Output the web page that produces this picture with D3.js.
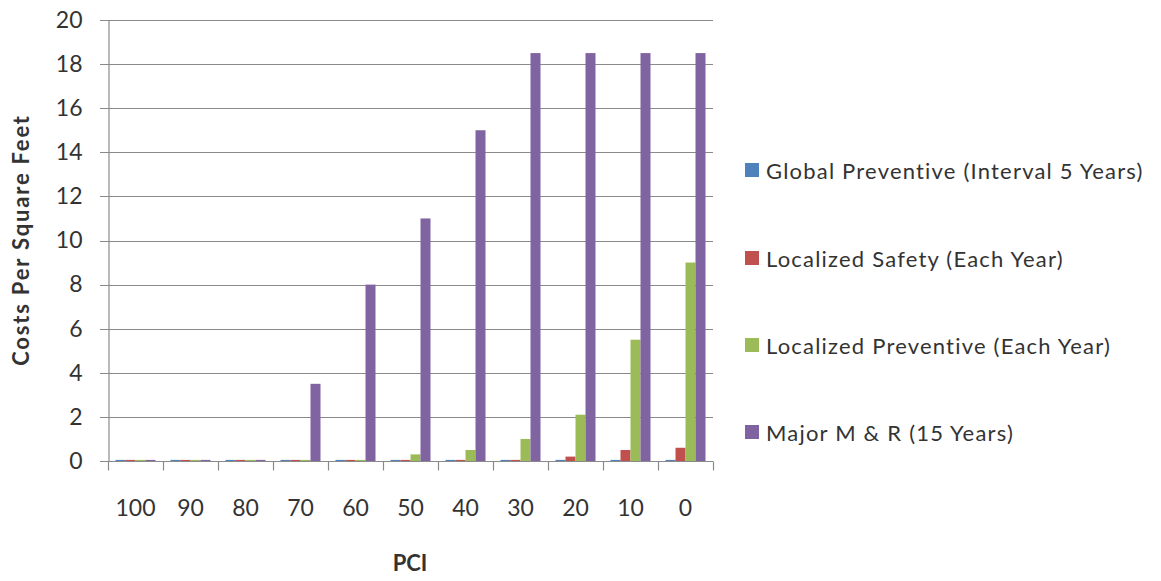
<!DOCTYPE html>
<html>
<head>
<meta charset="utf-8">
<script src="https://cdn.jsdelivr.net/npm/d3@7/dist/d3.min.js"></script>
<style>
  html, body { margin: 0; padding: 0; background: #fff; }
  svg { display: block; }
  text { font-family: Lato, "Open Sans", sans-serif; fill: #333; }
</style>
</head>
<body>
<svg id="chart" width="1161" height="581"></svg>
<script>
// PCI categories along the x axis
const categories = ["100", "90", "80", "70", "60", "50", "40", "30", "20", "10", "0"];

// Series names and their values (cost per square foot) for each PCI
const seriesNames = [
  "Global Preventive (Interval 5 Years)",
  "Localized Safety (Each Year)",
  "Localized Preventive  (Each Year)",
  "Major M & R (15 Years)"
];
const globalPreventive   = [0.05, 0.05, 0.05, 0.05, 0.05, 0.05, 0.05, 0.05, 0.05, 0.05, 0.05];
const localizedSafety    = [0.05, 0.05, 0.05, 0.05, 0.05, 0.05, 0.05, 0.05, 0.2, 0.5, 0.6];
const localizedPrevent   = [0.05, 0.05, 0.05, 0.05, 0.05, 0.3, 0.5, 1.0, 2.1, 5.5, 9.0];
const majorMR            = [0.05, 0.05, 0.05, 3.5, 8, 11, 15, 18.5, 18.5, 18.5, 18.5];
const seriesValues = [globalPreventive, localizedSafety, localizedPrevent, majorMR];
const seriesColors = ["#4F81BD", "#C0504D", "#9BBB59", "#8064A2"];

const yTicks = [0, 2, 4, 6, 8, 10, 12, 14, 16, 18, 20];

const svg = d3.select("#chart");
const plot = { left: 108, right: 713, top: 20, bottom: 461 };

const x = d3.scaleBand().domain(categories).range([plot.left, plot.right]).paddingInner(0).paddingOuter(0);
// Four bars per group, with a gap of 1.5 bar widths between groups
const x1 = d3.scaleBand().domain(d3.range(seriesNames.length))
  .range([0, x.bandwidth()]).paddingInner(0).paddingOuter(0.75);
const y = d3.scaleLinear().domain([0, 20]).range([plot.bottom, plot.top]);

// Horizontal gridlines
svg.append("g")
  .selectAll("line")
  .data(yTicks)
  .join("line")
  .attr("x1", plot.left - 8)
  .attr("x2", plot.right)
  .attr("y1", d => Math.round(y(d)) + 0.5)
  .attr("y2", d => Math.round(y(d)) + 0.5)
  .attr("stroke", "#8a8a8a")
  .attr("stroke-width", 1.2);

// Bars
const groups = svg.append("g")
  .selectAll("g")
  .data(categories)
  .join("g")
  .attr("transform", d => `translate(${x(d)},0)`);

groups.selectAll("rect")
  .data((d, i) => seriesValues.map((vals, s) => ({ s, v: vals[i] })))
  .join("rect")
  .attr("x", d => x1(d.s))
  .attr("width", x1.bandwidth())
  .attr("y", d => y(d.v))
  .attr("height", d => y(0) - y(d.v))
  .attr("fill", d => seriesColors[d.s]);

// Y axis
const yAxis = svg.append("g")
  .attr("transform", `translate(${plot.left + 0.5},0)`)
  .call(d3.axisLeft(y).tickValues(yTicks).tickSize(0).tickPadding(26));
yAxis.select(".domain").attr("stroke", "#8a8a8a").attr("stroke-width", 1.2);
yAxis.selectAll("text").style("font-size", "23px").attr("fill", "#404040")
  .style("font-family", "Lato, 'Open Sans', sans-serif");

// X axis with ticks at category boundaries
const xAxisG = svg.append("g").attr("transform", `translate(0,${Math.round(y(0)) + 0.5})`);
xAxisG.append("line")
  .attr("x1", plot.left).attr("x2", plot.right)
  .attr("stroke", "#8a8a8a").attr("stroke-width", 1.2);
const boundaries = categories.map(c => x(c)).concat([plot.right]);
xAxisG.selectAll("line.tick")
  .data(boundaries)
  .join("line")
  .attr("class", "tick")
  .attr("x1", d => Math.round(d) + 0.5).attr("x2", d => Math.round(d) + 0.5)
  .attr("y1", 0).attr("y2", 9)
  .attr("stroke", "#8a8a8a").attr("stroke-width", 1.2);
xAxisG.selectAll("text")
  .data(categories)
  .join("text")
  .attr("x", d => x(d) + x.bandwidth() / 2)
  .attr("y", 54)
  .attr("text-anchor", "middle")
  .style("font-size", "23px")
  .attr("fill", "#404040")
  .text(d => d);

// Axis titles
svg.append("text")
  .attr("x", 410).attr("y", 571)
  .attr("text-anchor", "middle")
  .style("font-size", "22px").style("font-weight", "bold")
  .attr("fill", "#222")
  .text("PCI");
svg.append("text")
  .attr("transform", "translate(29,240) rotate(-90)")
  .attr("text-anchor", "middle")
  .style("font-size", "22px").style("font-weight", "bold")
  .style("letter-spacing", "1.8px")
  .attr("fill", "#222")
  .text("Costs Per Square Feet");

// Legend
const legendY = [172, 260, 347, 434];
const legend = svg.append("g")
  .selectAll("g")
  .data(seriesNames)
  .join("g")
  .attr("transform", (d, i) => `translate(745,${legendY[i]})`);
legend.append("rect")
  .attr("x", 0).attr("y", -9).attr("width", 14).attr("height", 14)
  .attr("fill", (d, i) => seriesColors[i]);
legend.append("text")
  .attr("x", 21).attr("y", 7)
  .style("font-size", "22px")
  .style("letter-spacing", "1.2px")
  .attr("fill", "#333")
  .text(d => d);
</script>
</body>
</html>
